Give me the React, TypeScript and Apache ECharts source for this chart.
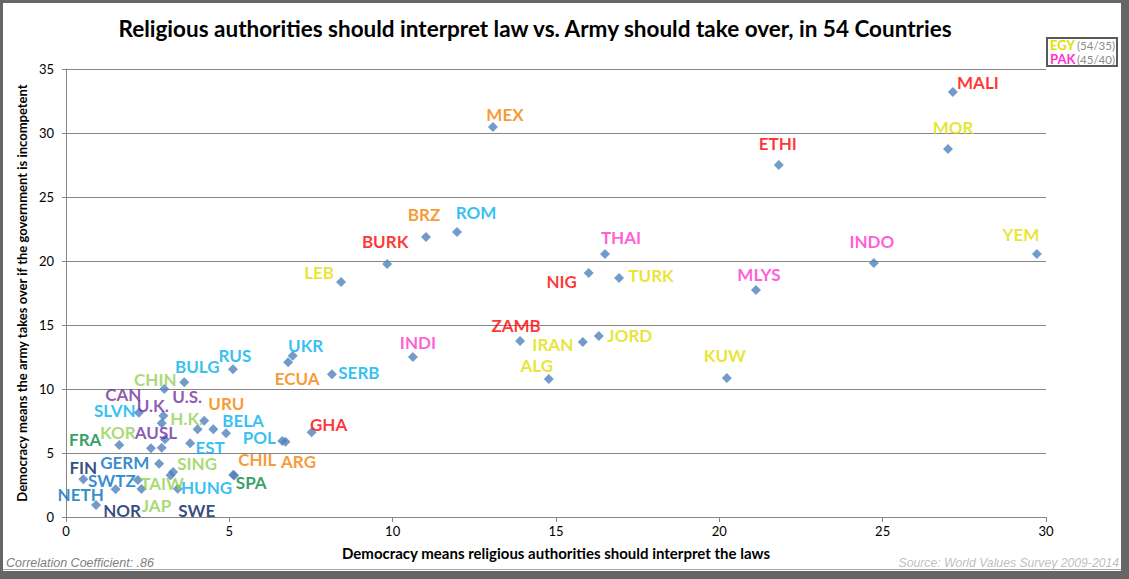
import React, { useEffect, useRef } from "react";
import * as echarts from "echarts";

const countries = [
  "MALI", "MOR", "ETHI", "MEX", "YEM", "INDO", "MLYS", "THAI", "NIG", "TURK",
  "ROM", "BRZ", "BURK", "LEB", "ZAMB", "IRAN", "JORD", "ALG", "KUW", "INDI",
  "UKR", "ECUA", "SERB", "RUS", "BULG", "CHIN",
  "SLVN", "CAN", "U.K.", "U.S.", "H.K.", "URU", "BELA", "AUSL", "FRA", "KOR",
  "GERM", "EST", "POL", "ARG", "GHA", "TAIW", "SING", "HUNG", "CHIL", "SPA",
  "FIN", "NETH", "SWTZ", "JAP", "SWE", "NOR",
];

const xValues = [
  27.15, 27.0, 21.82, 13.07, 29.72, 24.73, 21.12, 16.5, 16.0, 16.93,
  11.97, 11.02, 9.83, 8.42, 13.9, 15.82, 16.31, 14.78, 20.23, 10.62,
  6.94, 6.8, 8.14, 5.11, 3.62, 3.01,
  2.23, 2.98, 2.93, 4.23, 4.03, 4.51, 4.9, 3.03, 1.63, 2.6,
  2.93, 3.8, 6.62, 6.72, 7.52, 2.85, 3.28, 3.2, 5.12, 5.15,
  0.53, 1.52, 2.2, 2.31, 3.42, 0.92,
];

const yValues = [
  33.2, 28.75, 27.5, 30.47, 20.55, 19.84, 17.73, 20.55, 19.06, 18.67,
  22.27, 21.88, 19.77, 18.36, 13.75, 13.67, 14.14, 10.78, 10.86, 12.5,
  12.6, 12.09, 11.15, 11.54, 10.52, 10.0,
  8.15, 7.91, 7.32, 7.52, 6.85, 6.85, 6.54, 6.07, 5.63, 5.37,
  5.41, 5.76, 5.94, 5.88, 6.62, 4.16, 3.52, 3.26, 3.3, 3.25,
  2.95, 2.16, 2.89, 2.19, 2.21, 0.94,
];

// colour group of each country label
const groups = [
  "africa", "mena", "africa", "latin", "mena", "southAsia", "southAsia", "southAsia", "africa", "mena",
  "east", "latin", "africa", "mena", "africa", "mena", "mena", "mena", "mena", "southAsia",
  "east", "latin", "east", "east", "east", "eastAsia",
  "east", "anglo", "anglo", "anglo", "eastAsia", "latin", "east", "anglo", "catholic", "eastAsia",
  "protestant", "east", "east", "latin", "africa", "eastAsia", "eastAsia", "east", "latin", "catholic",
  "nordic", "protestant", "protestant", "eastAsia", "nordic", "nordic",
];

// label offsets (px) from each marker
const labelDx = [
  25, 5, -1, 12, -16, -2, 3, 16, -27, 32,
  19, -2, -2, -22, -4, -30, 31, -12, -2, 5,
  13, 9, 27, 2, 13, -9,
  -24, -40, -9, -17, -11, 13, 17, -9, -34, -33,
  -37, 20, -23, 13, 17, 3, 24, 36, 24, 17,
  0, -35, -26, 15, 19, 26,
];
const labelDy = [
  -10, -22, -22, -12, -19, -22, -16, -16, 8, -3,
  -19, -22, -22, -9, -16, 2, -1, -14, -22, -15,
  -10, 16, -2, -14, -16, -10,
  -2, -21, -18, -24, -11, -26, -13, -7, -5, -16,
  15, 4, -3, 20, -8, 20, -8, 12, -15, 7,
  -12, 5, 0, 17, 22, 6,
];

const groupColors: Record<string, string> = {
  africa: "#FF0000",
  mena: "#E2DE00",
  latin: "#F57F00",
  east: "#00B0F0",
  southAsia: "#FF33CC",
  eastAsia: "#92D050",
  anglo: "#7030A0",
  catholic: "#00883E",
  protestant: "#0070C0",
  nordic: "#002060",
};

const xTicks = { min: 0, max: 30, interval: 5 };
const yTicks = { min: 0, max: 35, interval: 5 };

const titleText = "Religious authorities should interpret law vs. Army should take over, in 54 Countries";
const xName = "Democracy means religious authorities should interpret the laws";
const yName = "Democracy means the army takes over if the government is incompetent";
const noteLeft = "Correlation Coefficient: .86";
const noteRight = "Source: World Values Survey 2009-2014";
const legendRows = [
  { code: "EGY", value: "(54/35)", group: "mena" },
  { code: "PAK", value: "(45/40)", group: "southAsia" },
];

const FONT = "Lato, 'Open Sans', sans-serif";

export default function App() {
  const ref = useRef<HTMLDivElement>(null);

  useEffect(() => {
    document.body.style.margin = "0";
    if (!ref.current) return;
    const chart = echarts.init(ref.current, null, { renderer: "svg" });

    const data = countries.map((c, i) => ({
      name: c,
      value: [xValues[i], yValues[i]],
      label: {
        offset: [labelDx[i], labelDy[i]],
        color: groupColors[groups[i]],
      },
    }));

    const axisGray = "#868686";

    chart.setOption({
      animation: false,
      backgroundColor: "#666666",
      grid: { left: 66, top: 69, right: 83, bottom: 62 },
      xAxis: {
        type: "value",
        min: xTicks.min,
        max: xTicks.max,
        interval: xTicks.interval,
        name: xName,
        nameLocation: "middle",
        nameGap: 28,
        nameTextStyle: { fontFamily: FONT, fontWeight: "bold", fontSize: 15, color: "#000" },
        axisLine: { show: true, lineStyle: { color: axisGray, width: 1 } },
        axisTick: { show: true, inside: false, length: 5, lineStyle: { color: axisGray } },
        axisLabel: { color: "#000", fontFamily: FONT, fontSize: 13, margin: 7 },
        splitLine: { show: false },
      },
      yAxis: {
        type: "value",
        min: yTicks.min,
        max: yTicks.max,
        interval: yTicks.interval,
        name: yName,
        nameLocation: "middle",
        nameGap: 35,
        nameRotate: 90,
        nameTextStyle: { fontFamily: FONT, fontWeight: "bold", fontSize: 13, color: "#000" },
        axisLine: { show: true, lineStyle: { color: axisGray, width: 1 } },
        axisTick: { show: true, inside: false, length: 4, lineStyle: { color: axisGray } },
        axisLabel: { color: "#000", fontFamily: FONT, fontSize: 13, margin: 12 },
        splitLine: { show: true, lineStyle: { color: axisGray, width: 1, type: "solid" } },
      },
      graphic: [
        {
          type: "rect",
          z: -10,
          shape: { x: 3, y: 3, width: 1118, height: 568 },
          style: { fill: "#ffffff" },
          silent: true,
        },
        {
          type: "line",
          z: -9,
          shape: { x1: 3, y1: 569.5, x2: 1121, y2: 569.5 },
          style: { stroke: "#a6a6a6", lineWidth: 1 },
          silent: true,
        },
        {
          type: "text",
          x: 535,
          y: 28,
          style: {
            text: titleText,
            fontFamily: FONT,
            fontWeight: "bold",
            fontSize: 22.5,
            fill: "#000",
            textAlign: "center",
            textVerticalAlign: "middle",
          },
        },
        {
          type: "text",
          x: 6,
          y: 563,
          style: {
            text: noteLeft,
            fontFamily: "'Liberation Sans', Arial, sans-serif",
            fontStyle: "italic",
            fontSize: 12.5,
            fill: "#7F7F7F",
            textVerticalAlign: "middle",
          },
        },
        {
          type: "text",
          x: 1119,
          y: 563,
          style: {
            text: noteRight,
            fontFamily: "'Liberation Sans', Arial, sans-serif",
            fontStyle: "italic",
            fontSize: 12.2,
            fill: "#BFBFBF",
            textAlign: "right",
            textVerticalAlign: "middle",
          },
        },
        {
          type: "rect",
          shape: { x: 1047, y: 38, width: 70, height: 28 },
          style: { fill: "#ffffff", stroke: "#595959", lineWidth: 2 },
        },
        ...legendRows.flatMap((r, i) => [
          {
            type: "text",
            x: 1050,
            y: 45 + i * 14,
            style: {
              text: r.code,
              fontFamily: FONT,
              fontWeight: "bold",
              fontSize: 13,
              fill: groupColors[r.group],
              textVerticalAlign: "middle",
            },
          },
          {
            type: "text",
            x: 1077,
            y: 45.5 + i * 14,
            style: {
              text: r.value,
              fontFamily: FONT,
              fontSize: 11.5,
              fill: "#8C8C8C",
              textVerticalAlign: "middle",
            },
          },
        ]),
      ],
      series: [
        {
          type: "scatter",
          symbol: "diamond",
          symbolSize: 10,
          itemStyle: { color: "#4F81BD" },
          label: {
            show: true,
            formatter: "{b}",
            position: "inside",
            align: "center",
            verticalAlign: "middle",
            fontFamily: FONT,
            fontWeight: "bold",
            fontSize: 17,
            lineHeight: 13,
          },
          data,
        },
      ],
    });

    return () => chart.dispose();
  }, []);

  return <div ref={ref} style={{ width: 1129, height: 579 }} />;
}
